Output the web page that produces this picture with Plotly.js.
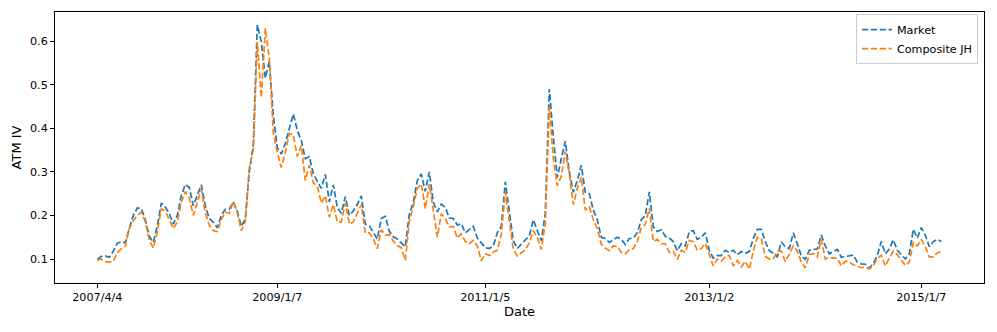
<!DOCTYPE html>
<html>
<head>
<meta charset="utf-8">
<script src="https://cdn.plot.ly/plotly-3.0.1.min.js"></script>
<style>
  body { margin: 0; background: #fff; }
  #chart { width: 997px; height: 332px; }
</style>
</head>
<body>
<div id="chart"></div>
<script>
// weekly ATM implied vol
var market = [
  0.099,0.106,0.107,0.104,0.118,0.136,0.140,0.137,0.170,0.200,
  0.217,0.216,0.190,0.152,0.138,0.176,0.228,0.219,0.204,0.180,
  0.200,0.245,0.271,0.264,0.222,0.247,0.270,0.222,0.193,0.184,
  0.172,0.200,0.214,0.214,0.231,0.210,0.175,0.192,0.300,0.361,
  0.637,0.598,0.515,0.553,0.430,0.355,0.341,0.365,0.400,0.433,
  0.395,0.372,0.330,0.335,0.295,0.278,0.262,0.294,0.231,0.270,
  0.218,0.205,0.243,0.200,0.210,0.225,0.245,0.180,0.176,0.161,
  0.146,0.193,0.198,0.164,0.151,0.146,0.137,0.128,0.203,0.230,
  0.280,0.295,0.255,0.300,0.230,0.208,0.226,0.218,0.194,0.193,
  0.178,0.181,0.160,0.168,0.175,0.148,0.137,0.126,0.124,0.130,
  0.160,0.175,0.277,0.215,0.142,0.124,0.135,0.144,0.153,0.190,
  0.165,0.142,0.205,0.490,0.380,0.287,0.330,0.370,0.300,0.253,
  0.280,0.315,0.253,0.250,0.212,0.190,0.150,0.147,0.138,0.145,
  0.150,0.145,0.133,0.147,0.148,0.160,0.190,0.200,0.254,0.174,
  0.163,0.167,0.152,0.148,0.140,0.119,0.135,0.130,0.163,0.165,
  0.145,0.150,0.160,0.120,0.102,0.108,0.108,0.120,0.115,0.120,
  0.110,0.117,0.113,0.117,0.147,0.168,0.168,0.140,0.119,0.113,
  0.105,0.139,0.128,0.124,0.160,0.135,0.107,0.099,0.120,0.122,
  0.123,0.155,0.130,0.112,0.117,0.122,0.104,0.106,0.107,0.109,
  0.093,0.089,0.088,0.079,0.090,0.108,0.140,0.112,0.123,0.144,
  0.120,0.110,0.100,0.112,0.168,0.148,0.172,0.155,0.128,0.140,
  0.145,0.140
];
var compositeJH = [
  0.097,0.100,0.094,0.093,0.095,0.114,0.124,0.130,0.170,0.188,
  0.200,0.207,0.186,0.143,0.125,0.162,0.215,0.210,0.190,0.170,
  0.185,0.230,0.255,0.240,0.200,0.230,0.260,0.206,0.178,0.165,
  0.163,0.190,0.208,0.205,0.231,0.205,0.165,0.185,0.310,0.350,
  0.598,0.470,0.629,0.560,0.390,0.345,0.310,0.345,0.388,0.385,
  0.335,0.360,0.280,0.315,0.275,0.267,0.228,0.245,0.196,0.225,
  0.185,0.185,0.228,0.180,0.185,0.205,0.225,0.160,0.160,0.146,
  0.124,0.167,0.155,0.156,0.141,0.131,0.126,0.097,0.186,0.220,
  0.262,0.272,0.215,0.272,0.205,0.150,0.204,0.192,0.174,0.175,
  0.148,0.158,0.140,0.135,0.143,0.130,0.096,0.112,0.108,0.116,
  0.120,0.157,0.254,0.185,0.122,0.107,0.115,0.121,0.137,0.165,
  0.150,0.122,0.183,0.449,0.330,0.268,0.290,0.347,0.295,0.225,
  0.262,0.288,0.212,0.220,0.190,0.170,0.134,0.125,0.119,0.130,
  0.129,0.115,0.112,0.121,0.124,0.140,0.172,0.180,0.216,0.140,
  0.145,0.135,0.135,0.115,0.118,0.099,0.120,0.115,0.143,0.140,
  0.120,0.124,0.136,0.110,0.084,0.100,0.095,0.105,0.108,0.084,
  0.097,0.082,0.095,0.077,0.118,0.150,0.146,0.106,0.100,0.101,
  0.118,0.118,0.094,0.111,0.130,0.118,0.093,0.080,0.110,0.113,
  0.105,0.145,0.100,0.104,0.102,0.102,0.084,0.095,0.093,0.087,
  0.084,0.080,0.081,0.077,0.085,0.101,0.109,0.084,0.102,0.118,
  0.110,0.098,0.085,0.093,0.138,0.130,0.145,0.128,0.105,0.105,
  0.114,0.117
];
var tickIdx = [0, 45, 97, 153, 206];
var tickLabels = ["2007/4/4", "2009/1/7", "2011/1/5", "2013/1/2", "2015/1/7"];

var idx = market.map((v, i) => i);

var traces = [{
    x: idx,
    y: market,
    name: "Market",
    mode: "lines",
    line: {color: "#1f77b4", width: 1.7, dash: "6.2px,2.7px"}
}, {
    x: idx,
    y: compositeJH,
    name: "Composite JH",
    mode: "lines",
    line: {color: "#ff7f0e", width: 1.7, dash: "6.2px,2.7px"}
}];

var axisStyle = {
    showline: true, mirror: true, linecolor: "#000", linewidth: 1,
    showgrid: false, zeroline: false,
    ticks: "outside", ticklen: 4, tickwidth: 1, tickcolor: "#000"
};

var layout = {
    width: 997, height: 332,
    margin: {l: 55, r: 13, t: 12, b: 49},
    paper_bgcolor: "#fff", plot_bgcolor: "#fff",
    font: {family: "DejaVu Sans", size: 11.2, color: "#000"},
    showlegend: true,
    legend: {
        x: 0.9935, y: 0.992, xanchor: "right", yanchor: "top",
        bgcolor: "rgba(255,255,255,0.8)", bordercolor: "#cccccc", borderwidth: 1,
        font: {size: 11.2}, itemwidth: 30, tracegroupgap: 0
    },
    xaxis: Object.assign({}, axisStyle, {
        range: [-10.575, 221.675],
        tickmode: "array", tickvals: tickIdx, ticktext: tickLabels,
        title: {text: "Date", standoff: 2}
    }),
    yaxis: Object.assign({}, axisStyle, {
        range: [0.045, 0.6665],
        tickmode: "array", tickvals: [0.1, 0.2, 0.3, 0.4, 0.5, 0.6],
        title: {text: "ATM IV", standoff: 5}
    })
};

Plotly.newPlot("chart", traces, layout, {displayModeBar: false, staticPlot: true});
</script>
</body>
</html>
